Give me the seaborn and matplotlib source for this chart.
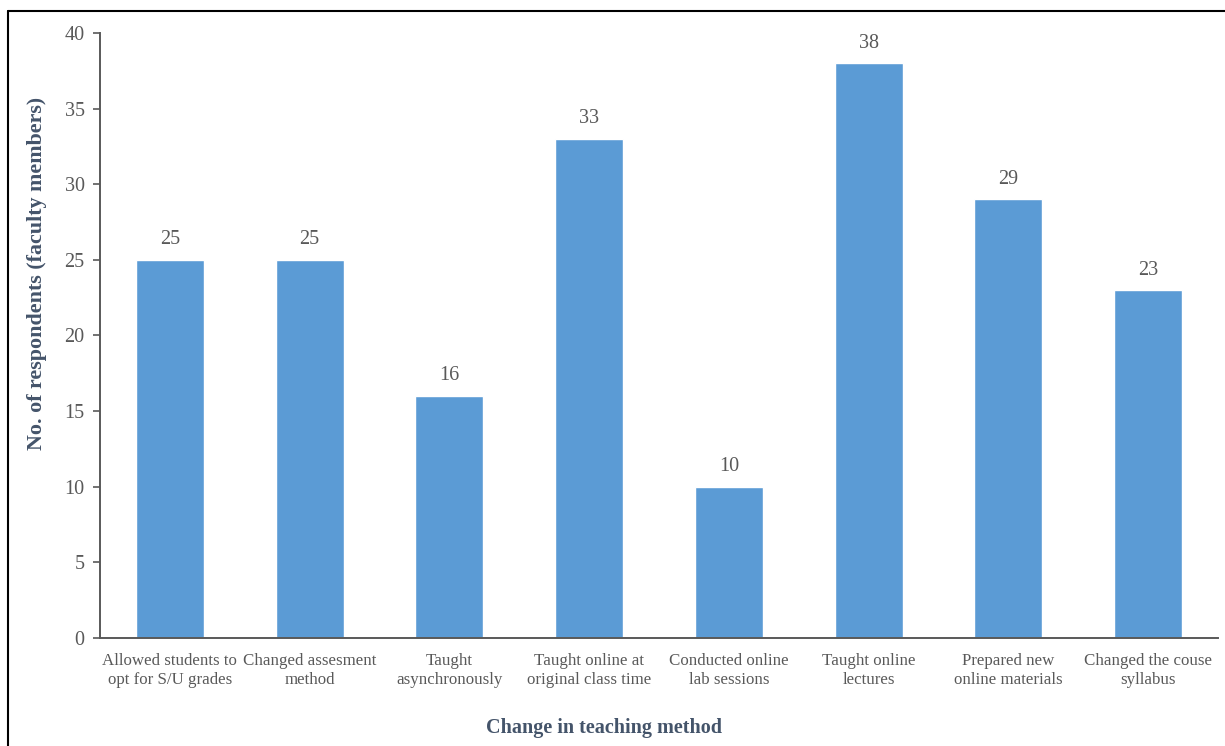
import matplotlib
matplotlib.use("Agg")
import matplotlib.pyplot as plt
from matplotlib.lines import Line2D
import seaborn as sns
import pandas as pd

categories = [
    "Allowed students to\nopt for S/U grades",
    "Changed assesment\nmethod",
    "Taught\nasynchronously",
    "Taught online at\noriginal class time",
    "Conducted online\nlab sessions",
    "Taught online\nlectures",
    "Prepared new\nonline materials",
    "Changed the couse\nsyllabus",
]
respondents = [25, 25, 16, 33, 10, 38, 29, 23]
y_ticks = [0, 5, 10, 15, 20, 25, 30, 35, 40]

sns.set_theme(style="white")
plt.rcParams["font.family"] = ["Liberation Serif", "DejaVu Serif"]

TEXT = "#595959"
LABEL = "#44546A"
BAR = "#5B9BD5"

df = pd.DataFrame({"method": categories, "count": respondents})

fig = plt.figure(figsize=(12.25, 7.46), dpi=100)
ax = fig.add_axes([0.0816, 0.1448, 0.9127, 0.811])

sns.barplot(data=df, x="method", y="count", color=BAR, saturation=1,
            width=0.486, ax=ax)

for patch, v in zip(ax.patches, respondents):
    ax.text(patch.get_x() + patch.get_width() / 2, v + 0.7, f"{v}",
            ha="center", va="bottom", fontsize=14.5, color=TEXT)

ax.set_ylim(0, 40)
ax.set_xlim(-0.5, len(categories) - 0.5)
ax.set_yticks(y_ticks)
ax.tick_params(axis="y", which="major", direction="out", length=5,
               width=1.2, color=TEXT, labelsize=14.5, labelcolor=TEXT, pad=6,
               left=True)
ax.tick_params(axis="x", length=0, labelsize=12.2, labelcolor=TEXT, pad=11)
for lbl in ax.get_xticklabels():
    lbl.set_linespacing(1.22)

for side in ("top", "right"):
    ax.spines[side].set_visible(False)
for side in ("left", "bottom"):
    ax.spines[side].set_visible(True)
    ax.spines[side].set_color(TEXT)
    ax.spines[side].set_linewidth(1.4)

ax.set_xlabel("Change in teaching method", fontsize=14.5, fontweight="bold",
              color=LABEL)
ax.set_ylabel("No. of respondents (faculty members)", fontsize=15.8,
              fontweight="bold", color=LABEL)
ax.xaxis.set_label_coords(0.451, -0.132)
ax.yaxis.set_label_coords(-0.047, 0.602)
ax.grid(False)

# outer frame on the left and top edges of the figure
fig.add_artist(Line2D([0.0065, 0.0065], [0.0, 0.985], transform=fig.transFigure,
                      color="black", linewidth=1.5))
fig.add_artist(Line2D([0.0065, 1.0], [0.985, 0.985], transform=fig.transFigure,
                      color="black", linewidth=1.5))

fig.savefig("out.png", dpi=100, facecolor="white")
